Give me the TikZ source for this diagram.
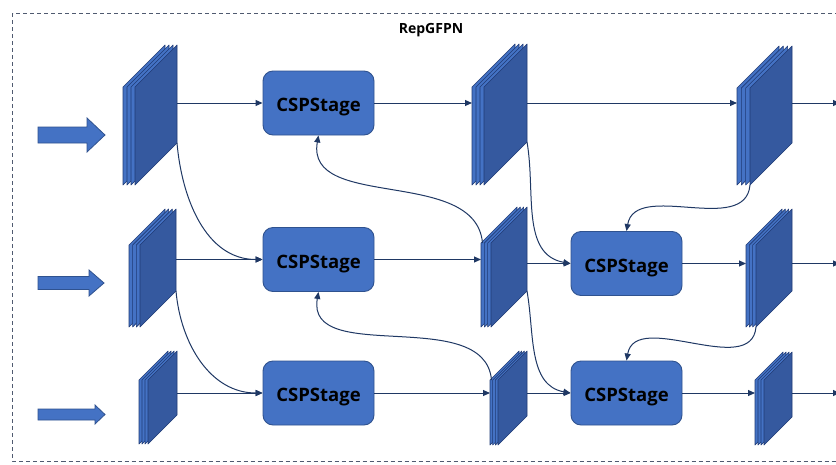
\documentclass[tikz,border=0pt]{standalone}
\usepackage{fontspec}
\setmainfont{Open Sans}
\usetikzlibrary{arrows.meta}

\definecolor{boxblue}{HTML}{4472C4}
\definecolor{boxedge}{HTML}{2F528F}
\definecolor{faceblue}{HTML}{35599F}
\definecolor{layeredge}{HTML}{1F3A75}
\definecolor{wirecol}{HTML}{1F3864}
\definecolor{framecol}{HTML}{4F5A70}

% feature-map stack: name, front x, strip width, top y, bottom y, depth
\newcommand\featmap[6]{%
  \foreach \k in {0,1,2,3}{%
    \pgfmathsetmacro\xo{#2+\k*#3/3}%
    \ifnum\k=3 \def\fc{faceblue}\else\def\fc{boxblue}\fi
    \filldraw[fill=\fc, draw=layeredge, line width=0.6pt, line join=round]
      (\xo,-#4) -- (\xo+#6,-#4+#6) -- (\xo+#6,-#5+#6) -- (\xo,-#5) -- cycle;
  }%
  \coordinate (#1-f)  at (#2,-#4);
  \coordinate (#1-b)  at (#2+#3+#6,-#4);
  \coordinate (#1-br) at (#2+#3+#6,-#5+#6);
  \coordinate (#1-tl) at (#2+1.5,-#4);
  \coordinate (#1-bf) at (#2+#3,-#5);
}

% block input arrow: x start, x tip, y, body half, head half, head length
\newcommand\inarrow[6]{%
  \filldraw[fill=boxblue, draw=boxedge, line width=0.8pt, line join=miter]
    (#1,-#3+#4) -- (#2-#6,-#3+#4) -- (#2-#6,-#3+#5) -- (#2,-#3)
    -- (#2-#6,-#3-#5) -- (#2-#6,-#3-#4) -- (#1,-#3-#4) -- cycle;
}

\begin{document}
\begin{tikzpicture}[x=1pt,y=1pt,
  stage/.style={draw=boxedge, fill=boxblue, rounded corners=10pt,
    minimum width=111pt, minimum height=64pt, line width=0.9pt,
    font=\bfseries\fontsize{18.5}{22}\selectfont, text=black, inner sep=0pt,
    text height=17pt, text depth=0pt},
  wire/.style={draw=wirecol, line width=1pt,
    -{Triangle[length=7pt,width=6pt]}}]

\useasboundingbox (0,0) rectangle (836,-464);
\fill[white] (0,0) rectangle (836,-464);

% outer dashed frame
\draw[framecol, line width=1pt, dash pattern=on 4pt off 3pt]
  (12.5,-13) rectangle (870,-461);
\node[font=\bfseries\fontsize{14}{16}\selectfont] (title) at (431,-30) {RepGFPN};

% inputs
\inarrow{38}{105}{135}{8}{17}{18}
\inarrow{38}{104}{283}{6.5}{13}{15}
\inarrow{38}{105}{414.5}{5.5}{9.5}{10}

% feature maps
\featmap{s11}{123}{12}{87}{185}{42}
\featmap{s12}{472}{12}{87}{185}{43}
\featmap{s13}{737}{13}{88}{185}{42}
\featmap{s21}{129}{11}{245}{327}{36}
\featmap{s22}{481}{10}{243}{327}{36}
\featmap{s23}{746}{10}{245}{327}{36}
\featmap{s31}{139}{9}{380}{444}{29}
\featmap{s32}{490}{8}{380}{445}{29}
\featmap{s33}{755}{9}{380}{445}{28}

% CSP stages
\node[stage] (b11) at (318.5,-103) {CSPStage};
\node[stage] (b21) at (318.5,-259.5) {CSPStage};
\node[stage] (b31) at (318.5,-393) {CSPStage};
\node[stage] (b22) at (626.5,-263.5) {CSPStage};
\node[stage] (b32) at (626.5,-393) {CSPStage};

\coordinate (o1) at (840,-103);
\coordinate (o2) at (840,-263.5);
\coordinate (o3) at (840,-393);

% row 1
\draw[wire] (s11-b |- b11.west) -- (b11.west);
\draw[wire] (b11.east) -- (s12-f |- b11.east);
\draw[wire] (s12-b |- b11.east) -- (s13-f |- b11.east);
\draw[wire] (s13-b |- b11.east) -- (o1);

% row 2
\draw[wire] (s21-b |- b21.west) -- (b21.west);
\draw[wire] (b21.east) -- (s22-f |- b21.east);
\draw[wire] (s22-b |- b22.west) -- (b22.west);
\draw[wire] (b22.east) -- (s23-f |- b22.east);
\draw[wire] (s23-b |- b22.east) -- (o2);

% row 3
\draw[wire] (s31-b |- b31.west) -- (b31.west);
\draw[wire] (b31.east) -- (s32-f |- b31.east);
\draw[wire] (s32-b |- b32.west) -- (b32.west);
\draw[wire] (b32.east) -- (s33-f |- b32.east);
\draw[wire] (s33-b |- b32.east) -- (o3);

% top-down paths
\draw[wire] (s11-br) to[out=-85,in=180] (b21.west);
\draw[wire] (s21-br) to[out=-85,in=180] (b31.west);
\draw[wire] (s12-br) to[out=-80,in=170] (b22.west);
\draw[wire] (s22-br) to[out=-80,in=170] (b32.west);

% bottom-up paths
\draw[wire] (s22-tl) to[out=95,in=-100] (b11.south);
\draw[wire] (s32-tl) to[out=95,in=-100] (b21.south);

% second top-down pass
\draw[wire] (s13-bf) to[out=-95,in=80] (b22.north);
\draw[wire] (s23-bf) to[out=-95,in=80] (b32.north);
\end{tikzpicture}
\end{document}
